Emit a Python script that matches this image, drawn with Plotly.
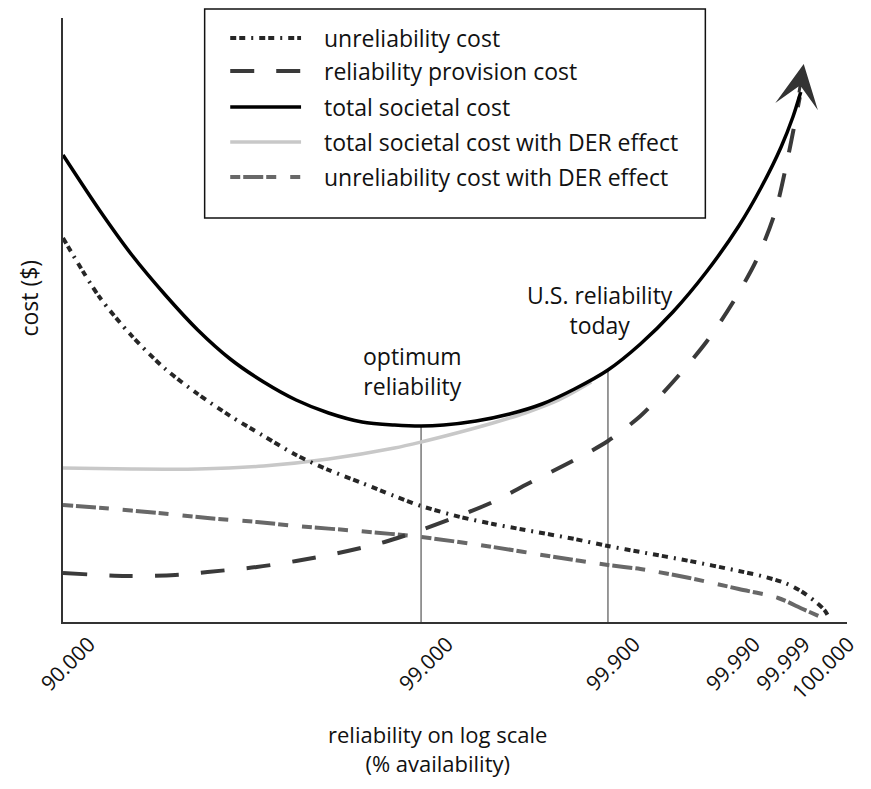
import numpy as np
import plotly.graph_objects as go

# ---- data (x = position along the hand-drawn log axis, y = cost, arbitrary units) ----
tick_pos = [0, 364, 554, 676, 727, 772]
tick_text = ["90.000", "99.000", "99.900", "99.990", "99.999", "100.000"]

unrel_x = [0, 37, 70, 104, 137, 170, 204, 237, 270, 304, 337, 364, 404, 437, 470, 520, 554, 587, 637, 687, 710, 734, 750, 764, 774, 780]
unrel_y = [384, 325, 286, 253, 228, 206, 186, 167, 152, 139, 126, 116, 105, 98, 92, 83, 76, 70, 61, 51, 46, 39, 31, 21, 12, 2]

prov_x = [0, 64, 114, 147, 197, 237, 280, 327, 364, 397, 437, 470, 520, 554, 587, 620, 654, 680, 705, 724, 737, 749]
prov_y = [49, 46, 47, 50, 55, 61, 69, 80, 92, 104, 120, 137, 162, 181, 206, 240, 280, 318, 362, 410, 465, 525]

total_x = [0, 37, 70, 104, 137, 170, 204, 237, 270, 304, 337, 364, 387, 420, 454, 487, 520, 554, 587, 620, 654, 687, 710, 730, 742, 750]
total_y = [467, 412, 367, 327, 292, 263, 240, 222, 209, 200, 197, 196, 197, 201, 208, 218, 233, 252, 278, 310, 350, 396, 435, 475, 505, 530]

der_total_x = [0, 70, 137, 204, 270, 337, 364, 404, 437, 470, 504, 537]
der_total_y = [154, 153, 153, 156, 163, 174, 180, 190, 199, 209, 222, 240]

der_unrel_x = [0, 40, 97, 147, 197, 237, 300, 364, 437, 500, 554, 587, 637, 687, 727, 752, 775]
der_unrel_y = [117, 114, 109, 104, 100, 96, 91, 85, 75, 65, 57, 53, 44, 33, 24, 13, 3]

optimum_x = 364   # 99.000
us_today_x = 554  # 99.900

names = ["unreliability cost", "reliability provision cost", "total societal cost",
         "total societal cost with DER effect", "unreliability cost with DER effect"]
colors = ["#262626", "#3a3a3a", "#000000", "#c8c8c8", "#686868"]
widths = [4, 4, 3.5, 3.5, 4]
dashes = ["6px,3px,6px,6px,2px,6px", "24px,22px", "solid", "solid", "10px,3px,20px,3px,10px,14px"]
series = [(unrel_x, unrel_y), (prov_x, prov_y), (total_x, total_y),
          (der_total_x, der_total_y), (der_unrel_x, der_unrel_y)]

FONT = "Open Sans"

fig = go.Figure()
order = [3, 4, 1, 0, 2]
for i in order:
    xs, ys = series[i]
    fig.add_trace(go.Scatter(x=xs, y=ys, mode="lines", name=names[i], showlegend=False,
                             line=dict(color=colors[i], width=widths[i], dash=dashes[i],
                                       shape="spline", smoothing=0.8),
                             hoverinfo="skip"))

# page geometry: the html body adds an 8px margin around the figure
PAGE_MARGIN = 8
W, H = 871 - 2 * PAGE_MARGIN, 789 - 2 * PAGE_MARGIN
PLOT_LEFT, PLOT_RIGHT, PLOT_TOP, PLOT_BOTTOM = 63, 860, 18, 622   # page pixels
L = PLOT_LEFT - PAGE_MARGIN
T = PLOT_TOP - PAGE_MARGIN
R = W - (PLOT_RIGHT - PAGE_MARGIN)
B = H - (PLOT_BOTTOM - PAGE_MARGIN)
pw, ph = PLOT_RIGHT - PLOT_LEFT, PLOT_BOTTOM - PLOT_TOP


def px_x(p):
    return (p - PLOT_LEFT) / pw


def px_y(p):
    return (PLOT_BOTTOM - p) / ph


shapes = []
# vertical guide lines up to the total cost curve
for xv in (optimum_x, us_today_x):
    top = float(np.interp(xv, total_x, total_y))
    shapes.append(dict(type="line", xref="x", yref="y", x0=xv, x1=xv, y0=0, y1=top,
                       line=dict(color="#555555", width=1.2), layer="below"))

# legend box
shapes.append(dict(type="rect", xref="paper", yref="paper",
                   x0=px_x(207), x1=px_x(716), y0=px_y(218), y1=px_y(9),
                   line=dict(color="#111111", width=1.5), fillcolor="white"))
rows = [38, 71, 107, 142, 177]
annotations = []
for k, ry in enumerate(rows):
    shapes.append(dict(type="line", xref="paper", yref="paper",
                       x0=px_x(233), x1=px_x(305), y0=px_y(ry), y1=px_y(ry),
                       line=dict(color=colors[k], width=widths[k], dash=dashes[k])))
    annotations.append(dict(xref="paper", yref="paper", x=px_x(326), y=px_y(ry),
                            text=names[k], showarrow=False, xanchor="left", yanchor="middle",
                            font=dict(family=FONT, size=23, color="#111111")))

# text labels on the chart
annotations.append(dict(x=355, y=251, xref="x", yref="y", text="optimum<br>reliability",
                        showarrow=False, xanchor="center", yanchor="middle",
                        font=dict(family=FONT, size=23, color="#111111")))
annotations.append(dict(x=546, y=312, xref="x", yref="y", text="U.S. reliability<br>today",
                        showarrow=False, xanchor="center", yanchor="middle",
                        font=dict(family=FONT, size=23, color="#111111")))
# arrow head at top of the curves
annotations.append(dict(x=753, y=558, xref="x", yref="y", text="", showarrow=True,
                        arrowhead=3, arrowsize=2.4, arrowwidth=3, arrowcolor="#333333",
                        ax=-5, ay=30, standoff=0))
# axis titles
annotations.append(dict(xref="paper", yref="paper", x=px_x(444), y=px_y(748),
                        text="reliability on log scale<br>(% availability)", showarrow=False,
                        xanchor="center", yanchor="middle",
                        font=dict(family=FONT, size=22, color="#111111")))
annotations.append(dict(xref="paper", yref="paper", x=px_x(28), y=px_y(298),
                        text="cost ($)", textangle=-90, showarrow=False,
                        xanchor="center", yanchor="middle",
                        font=dict(family=FONT, size=23, color="#111111")))

fig.update_layout(
    width=W, height=H, autosize=False,
    margin=dict(l=L, r=R, t=T, b=B),
    plot_bgcolor="white", paper_bgcolor="white",
    shapes=shapes, annotations=annotations,
    xaxis=dict(range=[0, pw], tickvals=tick_pos, ticktext=tick_text, tickangle=-45,
               showgrid=False, zeroline=False, showline=True, linecolor="#333333", linewidth=1.5,
               ticks="", ticklabelshift=26, ticklabelstandoff=0, ticklabeloverflow="allow",
               tickfont=dict(family=FONT, size=21, color="#111111"), fixedrange=True),
    yaxis=dict(range=[0, ph], showticklabels=False, showgrid=False, zeroline=False,
               showline=True, linecolor="#333333", linewidth=1.5, ticks="", fixedrange=True),
    showlegend=False,
)

fig.write_html("out.html")
